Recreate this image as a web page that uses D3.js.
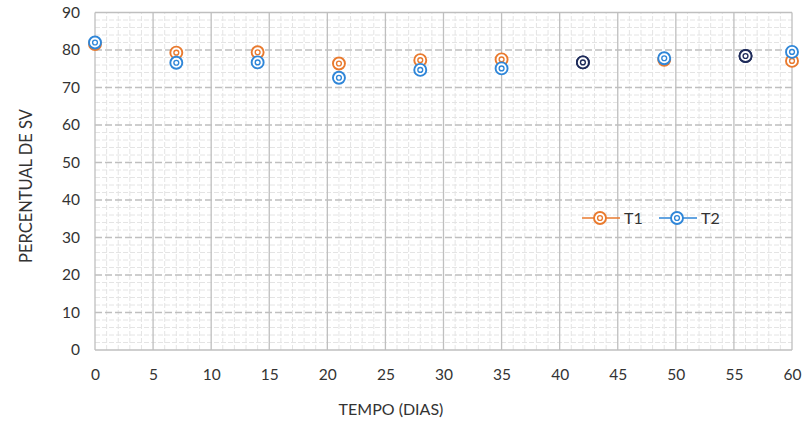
<!DOCTYPE html>
<html><head><meta charset="utf-8">
<script src="https://cdn.jsdelivr.net/npm/d3@7"></script>
<style>body{margin:0;background:#fff}svg{display:block}</style>
</head><body>
<svg id="c" width="804" height="423"></svg>
<script>
const days = [0, 7, 14, 21, 28, 35, 42, 49, 56, 60];
const t1 = [81.6, 79.3, 79.4, 76.4, 77.3, 77.5, 76.7, 77.4, 78.4, 77.1];
const t2 = [82.0, 76.6, 76.7, 72.6, 74.7, 75.1, 76.7, 77.8, 78.4, 79.5];
const seriesNames = ["T1", "T2"];
const xTicks = [0,5,10,15,20,25,30,35,40,45,50,55,60];
const yTicks = [0,10,20,30,40,50,60,70,80,90];
const colors = {T1: "#E97A2E", T2: "#2F86D8", both: "#1E2B5A"};

const svg = d3.select("#c");
const x = d3.scaleLinear().domain([0, 60]).range([95, 792]);
const y = d3.scaleLinear().domain([0, 90]).range([350, 12.5]);
const font = "Lato, 'Open Sans', sans-serif";
const txt = "#333333";

const g = svg.append("g");
// minor grid
g.selectAll(".mx").data(d3.range(0, 61, 1).filter(v => v % 5)).join("line")
  .attr("x1", d => x(d)).attr("x2", d => x(d)).attr("y1", y(0)).attr("y2", y(90))
  .attr("stroke", "#e4e4e4").attr("stroke-width", 1).attr("stroke-dasharray", "5,2");
g.selectAll(".my").data(d3.range(0, 91, 2).filter(v => v % 10)).join("line")
  .attr("x1", x(0)).attr("x2", x(60)).attr("y1", d => y(d)).attr("y2", d => y(d))
  .attr("stroke", "#e4e4e4").attr("stroke-width", 1).attr("stroke-dasharray", "5,2");
// major vertical
g.selectAll(".Mx").data(xTicks).join("line")
  .attr("x1", d => x(d)).attr("x2", d => x(d)).attr("y1", y(0)).attr("y2", y(90))
  .attr("stroke", "#bfbfbf").attr("stroke-width", 1.3);
// major horizontal dashed
g.selectAll(".My").data(yTicks).join("line")
  .attr("x1", x(0)).attr("x2", x(60)).attr("y1", d => y(d)).attr("y2", d => y(d))
  .attr("stroke", "#bfbfbf").attr("stroke-width", 1.3)
  .attr("stroke-dasharray", d => (d === 0 || d === 90) ? null : "7,3");

// axes labels
const xa = d3.axisBottom(x).tickValues(xTicks).tickSize(0).tickPadding(19);
svg.append("g").attr("transform", `translate(0,${y(0)})`).call(xa)
  .call(s => s.select(".domain").remove())
  .selectAll("text").attr("font-family", font).attr("font-size", 15.5).attr("fill", txt);
const ya = d3.axisLeft(y).tickValues(yTicks).tickSize(0).tickPadding(15);
svg.append("g").attr("transform", `translate(${x(0)},0)`).call(ya)
  .call(s => s.select(".domain").remove())
  .selectAll("text").attr("font-family", font).attr("font-size", 15.5).attr("fill", txt);

svg.append("text").attr("x", 391).attr("y", 415).attr("text-anchor", "middle")
  .attr("font-family", font).attr("font-size", 16).attr("fill", txt).text("TEMPO (DIAS)");
svg.append("text").attr("transform", "translate(32,186) rotate(-90)").attr("text-anchor", "middle")
  .attr("font-family", font).attr("font-size", 16.5).attr("fill", txt).text("PERCENTUAL DE SV");

function marker(sel, cx, cy, col) {
  const m = sel.append("g").attr("transform", `translate(${cx},${cy})`);
  m.append("circle").attr("r", 6).attr("fill", "#fff").attr("stroke", col).attr("stroke-width", 1.9);
  m.append("circle").attr("r", 2.4).attr("fill", "#fff").attr("stroke", col).attr("stroke-width", 1.4);
}
const pts = svg.append("g");
days.forEach((d, i) => marker(pts, x(d), y(t1[i]), t1[i] === t2[i] ? colors.both : colors.T1));
days.forEach((d, i) => marker(pts, x(d), y(t2[i]), t1[i] === t2[i] ? colors.both : colors.T2));

// legend
const lg = svg.append("g");
const lx = [582, 659];
seriesNames.forEach((n, i) => {
  const cy = 218;
  lg.append("line").attr("x1", lx[i]).attr("x2", lx[i] + 38).attr("y1", cy).attr("y2", cy)
    .attr("stroke", colors[n]).attr("stroke-width", 2).attr("opacity", 0.75);
  marker(lg, lx[i] + 18, cy, colors[n]);
  lg.append("text").attr("x", lx[i] + 42).attr("y", cy + 5.5).attr("font-family", font)
    .attr("font-size", 16).attr("fill", txt).text(n);
});
</script>
</body></html>
